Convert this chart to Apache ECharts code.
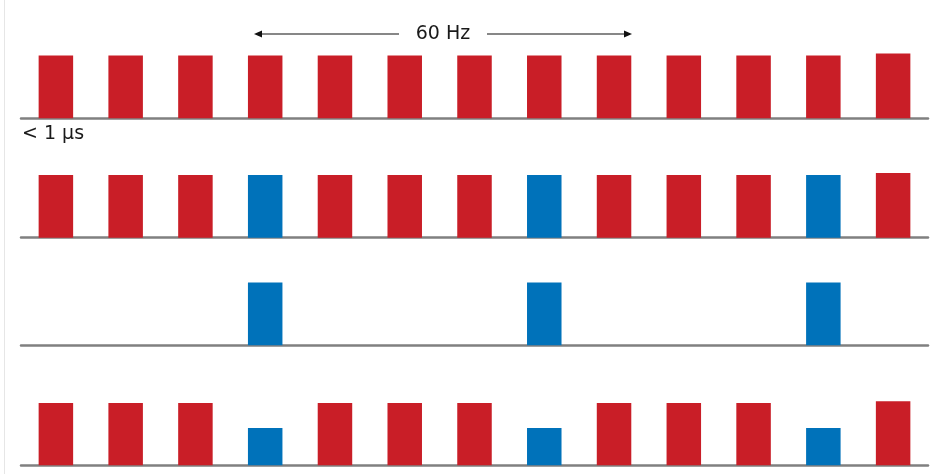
<!DOCTYPE html>
<html>
<head>
<meta charset="utf-8">
<script src="https://cdn.jsdelivr.net/npm/echarts@6/dist/echarts.min.js"></script>
<style>html,body{margin:0;padding:0;background:#fff}#c{width:931px;height:474px}</style>
</head>
<body>
<div id="c"></div>
<script>
// Data
var slots = ['1','2','3','4','5','6','7','8','9','10','11','12','13'];
// row 1: all red pulses
var row1Red  = [1,1,1,1,1,1,1,1,1,1,1,1,1.03];
// row 2: red pulses with blue ones replacing every 4th
var row2Red  = [1,1,1,null,1,1,1,null,1,1,1,null,1.03];
var row2Blue = [null,null,null,1,null,null,null,1,null,null,null,1,null];
// row 3: blue pulses only
var row3Blue = [null,null,null,1,null,null,null,1,null,null,null,1,null];
// row 4: red pulses with shorter blue pulses
var row4Red  = [1,1,1,null,1,1,1,null,1,1,1,null,1.03];
var row4Blue = [null,null,null,0.6,null,null,null,0.6,null,null,null,0.6,null];
var topLabel = '60 Hz';
var sideLabel = '< 1 µs';

var RED = '#C91E27', BLUE = '#0072BA', GRAY = '#808080';
var YMAX = 1.05;
var rows = [
  {top: 55.5, h: 62.8, red: row1Red, blue: null},
  {top: 175, h: 62.7, red: row2Red, blue: row2Blue},
  {top: 282.5, h: 62.8, red: null, blue: row3Blue},
  {top: 403, h: 62.3, red: row4Red, blue: row4Blue}
];
var grids = [], xAxes = [], yAxes = [], series = [];
rows.forEach(function(r, i){
  var H = r.h * YMAX;
  grids.push({left: 21, right: 3, top: r.top - (H - r.h), height: H, containLabel: false});
  xAxes.push({type: 'category', gridIndex: i, data: slots,
    axisLine: {show: true, lineStyle: {color: GRAY, width: 2.5}},
    axisTick: {show: false}, axisLabel: {show: false}, splitLine: {show: false}});
  yAxes.push({type: 'value', gridIndex: i, min: 0, max: YMAX, show: false});
  if (r.red) series.push({type: 'bar', xAxisIndex: i, yAxisIndex: i, data: r.red,
    barWidth: 34.5, barGap: '-100%', itemStyle: {color: RED}, silent: true, z: 1});
  if (r.blue) series.push({type: 'bar', xAxisIndex: i, yAxisIndex: i, data: r.blue,
    barWidth: 34.5, barGap: '-100%', itemStyle: {color: BLUE}, silent: true, z: 1});
});

var chart = echarts.init(document.getElementById('c'), null, {renderer: 'canvas'});
chart.setOption({
  animation: false,
  backgroundColor: '#fff',
  grid: grids, xAxis: xAxes, yAxis: yAxes, series: series,
  graphic: [
    {type: 'line', shape: {x1: 4.5, y1: 0, x2: 4.5, y2: 474}, style: {stroke: '#e6e6e6', lineWidth: 1}, silent: true},
    {type: 'line', shape: {x1: 258, y1: 34, x2: 399, y2: 34}, style: {stroke: '#111', lineWidth: 1.2}},
    {type: 'polygon', shape: {points: [[254, 34], [262, 30.5], [262, 37.5]]}, style: {fill: '#111'}},
    {type: 'line', shape: {x1: 487, y1: 34, x2: 628, y2: 34}, style: {stroke: '#111', lineWidth: 1.2}},
    {type: 'polygon', shape: {points: [[632, 34], [624, 30.5], [624, 37.5]]}, style: {fill: '#111'}},
    {type: 'text', x: 443, y: 34, style: {text: topLabel, fill: '#1a1a1a', font: '19px "DejaVu Sans"', textAlign: 'center', textVerticalAlign: 'middle'}},
    {type: 'text', x: 22, y: 134, style: {text: sideLabel, fill: '#1a1a1a', font: '19px "DejaVu Sans"', textAlign: 'left', textVerticalAlign: 'middle'}}
  ]
});
</script>
</body>
</html>
